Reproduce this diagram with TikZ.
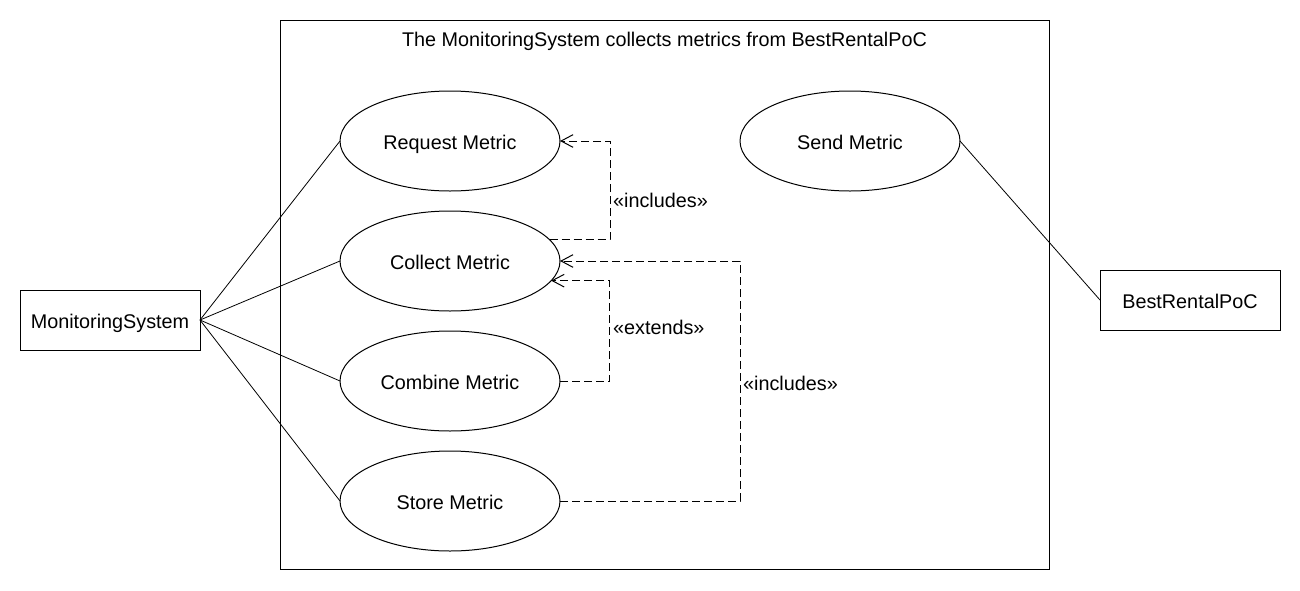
\documentclass[tikz,border=0pt]{standalone}
\usepackage{fontspec}
\setmainfont{Liberation Sans}
\usetikzlibrary{arrows.meta,positioning,shapes.geometric}

\tikzset{
  label text/.style={text height=14pt, text depth=2pt},
  usecase/.style={draw, ellipse, label text, inner sep=0pt, outer sep=0pt, minimum width=165pt, minimum height=75pt},
  actor/.style={draw, rectangle, label text, inner sep=0pt, outer sep=0pt, minimum width=135pt, minimum height=45pt},
  assoc/.style={line width=0.6pt},
  depend/.style={dash pattern=on 6pt off 3pt, -{Straight Barb[length=9pt,width=9.5pt]}},
  stereo/.style={anchor=west, inner sep=2pt},
}

\begin{document}
\begin{tikzpicture}[x=0.75pt, y=-0.75pt, line width=0.75pt, font=\fontsize{14.85}{17}\selectfont]
\useasboundingbox (0,0) rectangle (1300,590);

% system boundary
\draw (280,20) rectangle (1049,569);
\node[label text] (title) at (664.5,38) {The MonitoringSystem collects metrics from BestRentalPoC};

% use cases
\node[usecase] (request) at (450,141) {Request Metric};
\node[usecase, below=15pt of request] (collect) {Collect Metric};
\node[usecase, below=15pt of collect] (combine) {Combine Metric};
\node[usecase, below=15pt of combine] (store) {Store Metric};
\node[usecase] (send) at (850,141) {Send Metric};

% actors
\node[actor] (monitor) at (110,320) {MonitoringSystem};
\node[actor] (rental) at (1190,300) {BestRentalPoC};

% associations
\foreach \uc in {request,collect,combine,store}
  \draw[assoc] (monitor.east) -- (\uc.west);
\draw[assoc] (send.east) -- (rental.west);

% dependencies
\draw[depend] (collect.12) -| node[stereo, pos=0.7] (inc1) {«includes»} ([xshift=37.5pt]request.east) -- (request.east);
\draw[depend] (combine.east) -| node[stereo, pos=0.766] (ext) {«extends»} ([xshift=44.1pt]collect.-11) -- (collect.-11);
\draw[depend] (store.east) -| node[stereo, pos=0.745] (inc2) {«includes»} ([xshift=135pt]collect.east) -- (collect.east);

\end{tikzpicture}
\end{document}
